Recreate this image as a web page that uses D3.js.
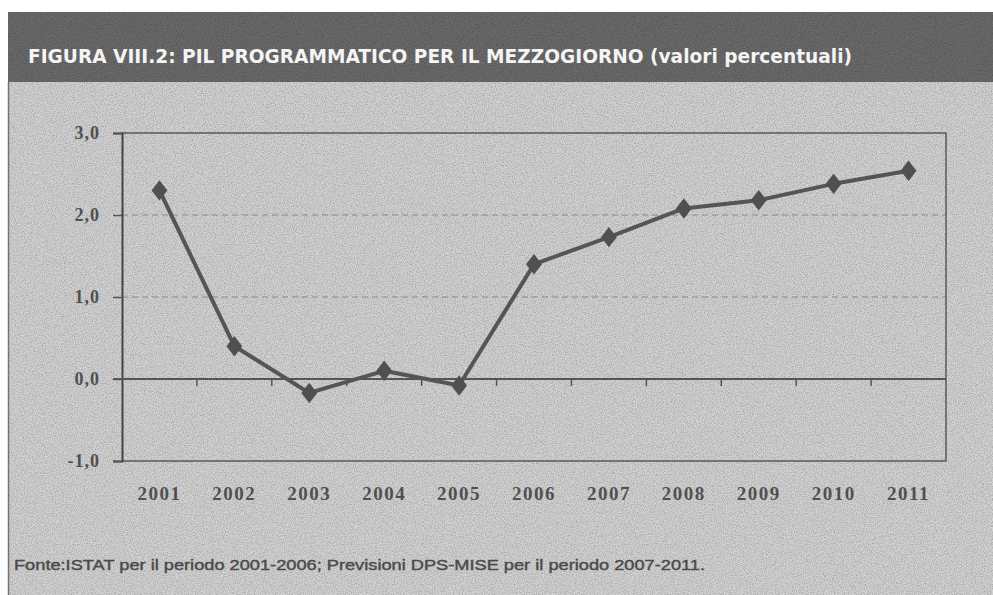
<!DOCTYPE html>
<html>
<head>
<meta charset="utf-8">
<script src="https://cdn.jsdelivr.net/npm/d3@7"></script>
<style>
  body { margin: 0; background: #fff; }
  svg { display: block; }
</style>
</head>
<body>
<div id="chart"></div>
<script>
// data
var years = ["2001", "2002", "2003", "2004", "2005", "2006", "2007", "2008", "2009", "2010", "2011"];
var pil = [2.3, 0.4, -0.17, 0.1, -0.08, 1.4, 1.73, 2.08, 2.18, 2.38, 2.54];
var yTicks = [-1, 0, 1, 2, 3];

var titleText = "FIGURA VIII.2: PIL PROGRAMMATICO PER IL MEZZOGIORNO (valori percentuali)";
var sourceText = "Fonte:ISTAT per il periodo 2001-2006; Previsioni DPS-MISE per il periodo 2007-2011.";

var width = 993;
var height = 595;
var plot = { left: 122, right: 946, top: 133, bottom: 461 };

var svg = d3
  .select("#chart")
  .append("svg")
  .attr("width", width)
  .attr("height", height);

// scan-like speckle
var defs = svg.append("defs");
var noise = defs.append("filter").attr("id", "noise").attr("x", 0).attr("y", 0).attr("width", "100%").attr("height", "100%");
noise.append("feTurbulence").attr("type", "fractalNoise").attr("baseFrequency", 0.9).attr("numOctaves", 2).attr("seed", 3);
noise.append("feColorMatrix").attr("type", "matrix")
  .attr("values", "0 0 0 0 0  0 0 0 0 0  0 0 0 0 0  0 0 0 -1.6 1.0");

// page background panel
svg.append("rect")
  .attr("x", 8).attr("y", 82)
  .attr("width", width - 8).attr("height", height - 82)
  .attr("fill", "#d2d2d2");
svg.append("line")
  .attr("x1", 8.5).attr("x2", 8.5).attr("y1", 82).attr("y2", height)
  .attr("stroke", "#7a7a7a").attr("stroke-width", 1.5);

// title bar
svg.append("rect")
  .attr("x", 8).attr("y", 12)
  .attr("width", width - 8).attr("height", 70)
  .attr("fill", "#6a6a6a");

// noise over panel + bar
svg.append("rect")
  .attr("x", 8).attr("y", 12)
  .attr("width", width - 8).attr("height", height - 12)
  .attr("filter", "url(#noise)")
  .attr("opacity", 0.28);

svg.append("text")
  .attr("x", 28).attr("y", 63)
  .attr("fill", "#f4f4f4")
  .attr("font-family", "'DejaVu Sans', sans-serif")
  .attr("font-weight", "bold")
  .attr("font-size", 19)
  .attr("textLength", 824)
  .attr("lengthAdjust", "spacingAndGlyphs")
  .text(titleText);

var x = d3.scaleBand().domain(years).range([plot.left, plot.right]);
var y = d3.scaleLinear().domain([-1, 3]).range([plot.bottom, plot.top]);

var fmt = function(v) { return d3.format(".1f")(v).replace(".", ",").replace("−", "-"); };

// dashed gridlines
svg.append("g")
  .selectAll("line")
  .data([1, 2])
  .enter()
  .append("line")
  .attr("x1", plot.left).attr("x2", plot.right)
  .attr("y1", function(d) { return y(d); })
  .attr("y2", function(d) { return y(d); })
  .attr("stroke", "#8a8a8a")
  .attr("stroke-width", 1.2)
  .attr("stroke-dasharray", "6,4");

// plot frame (top, right, bottom)
svg.append("path")
  .attr("d", "M" + plot.left + "," + y(3) + "H" + plot.right + "V" + y(-1) + "H" + plot.left)
  .attr("fill", "none")
  .attr("stroke", "#5a5a5a")
  .attr("stroke-width", 1.5);

// y axis
var yAxis = svg.append("g")
  .attr("transform", "translate(" + plot.left + ",0)")
  .call(d3.axisLeft(y).tickValues(yTicks).tickFormat(fmt).tickSize(9).tickPadding(13));
yAxis.select(".domain").attr("stroke", "#444").attr("stroke-width", 2);
yAxis.selectAll(".tick line").attr("stroke", "#555").attr("stroke-width", 1.5);
yAxis.selectAll(".tick text")
  .attr("fill", "#505050")
  .attr("font-family", "'Liberation Serif', 'DejaVu Serif', serif")
  .attr("font-weight", "bold")
  .attr("font-size", 18)
  .attr("letter-spacing", 1);

// zero axis with ticks between categories
var zeroAxis = svg.append("g")
  .attr("transform", "translate(0," + y(0) + ")");
zeroAxis.append("line")
  .attr("x1", plot.left - 9).attr("x2", plot.right)
  .attr("stroke", "#555").attr("stroke-width", 2);
zeroAxis.selectAll(".tk")
  .data(years.slice(1))
  .enter()
  .append("line")
  .attr("class", "tk")
  .attr("x1", function(d) { return x(d); })
  .attr("x2", function(d) { return x(d); })
  .attr("y1", 0).attr("y2", 7)
  .attr("stroke", "#555").attr("stroke-width", 1.5);

// year labels under the plot
svg.append("g")
  .selectAll("text")
  .data(years)
  .enter()
  .append("text")
  .attr("x", function(d) { return x(d) + x.bandwidth() / 2; })
  .attr("y", 500)
  .attr("text-anchor", "middle")
  .attr("fill", "#505050")
  .attr("font-family", "'Liberation Serif', 'DejaVu Serif', serif")
  .attr("font-weight", "bold")
  .attr("font-size", 19)
  .attr("letter-spacing", 1.5)
  .text(function(d) { return d; });

// series line
var line = d3.line()
  .x(function(d, i) { return x(years[i]) + x.bandwidth() / 2; })
  .y(function(d) { return y(d); });

svg.append("path")
  .datum(pil)
  .attr("d", line)
  .attr("fill", "none")
  .attr("stroke", "#555")
  .attr("stroke-width", 4)
  .attr("stroke-linejoin", "round");

svg.append("g")
  .selectAll("path")
  .data(pil)
  .enter()
  .append("path")
  .attr("d", d3.symbol().type(d3.symbolDiamond).size(120))
  .attr("transform", function(d, i) {
    return "translate(" + (x(years[i]) + x.bandwidth() / 2) + "," + y(d) + ") scale(1.35,1)";
  })
  .attr("fill", "#505050");

// source note
svg.append("text")
  .attr("x", 14).attr("y", 570)
  .attr("fill", "#4a4a4a")
  .attr("stroke", "#4a4a4a")
  .attr("stroke-width", 0.4)
  .attr("font-family", "'Liberation Sans', Arial, sans-serif")
  .attr("font-size", 15)
  .attr("textLength", 691)
  .attr("lengthAdjust", "spacingAndGlyphs")
  .text(sourceText);
</script>
</body>
</html>
